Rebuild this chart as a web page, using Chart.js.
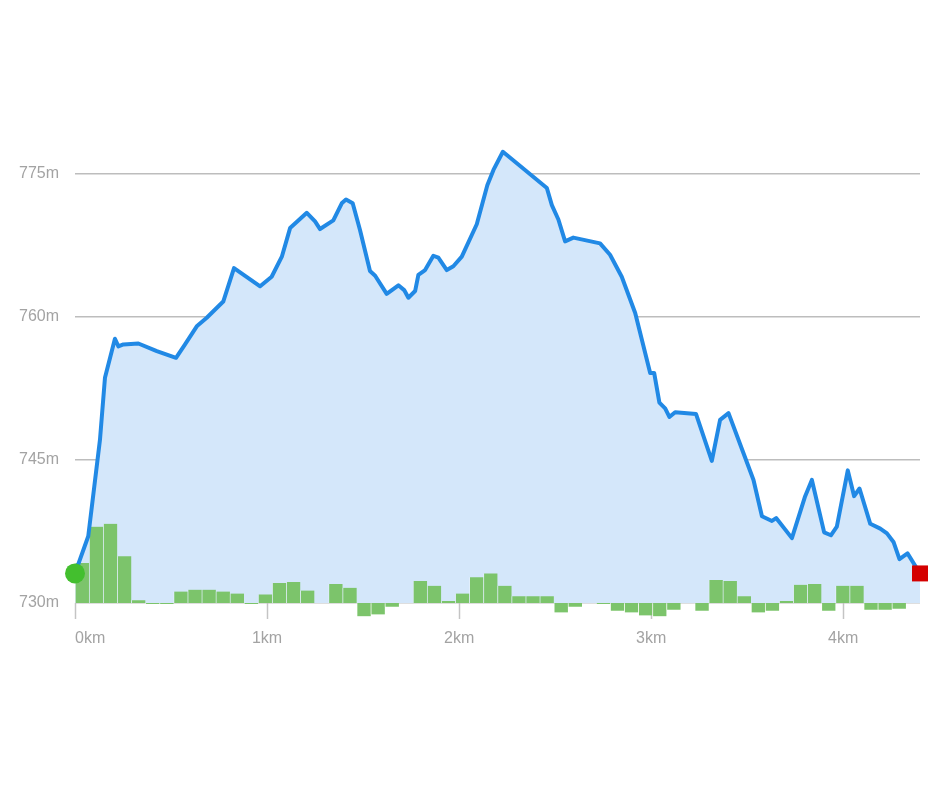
<!DOCTYPE html>
<html>
<head>
<meta charset="utf-8">
<title>Elevation profile</title>
<script src="https://cdn.jsdelivr.net/npm/chart.js@4.4.0/dist/chart.umd.min.js"></script>
<style>
    html, body { margin: 0; padding: 0; background: #ffffff; }
    #wrap { width: 940px; height: 788px; position: relative; }
</style>
</head>
<body>
<div id="wrap"><canvas id="profileChart"></canvas></div>
<script>
// Distance along the route (km) and elevation (m) of the profile line
const distKm = [
    0, 0.069, 0.130, 0.156, 0.208, 0.226, 0.252, 0.330, 0.426, 0.526,
    0.573, 0.634, 0.686, 0.772, 0.828, 0.964, 1.024, 1.077, 1.120, 1.207,
    1.250, 1.276, 1.345, 1.389, 1.411, 1.446, 1.484, 1.536, 1.563, 1.623,
    1.684, 1.714, 1.736, 1.771, 1.788, 1.823, 1.866, 1.892, 1.936, 1.970,
    2.014, 2.092, 2.147, 2.179, 2.228, 2.457, 2.483, 2.517, 2.552, 2.595,
    2.734, 2.786, 2.847, 2.917, 2.995, 3.016, 3.043, 3.073, 3.095, 3.125,
    3.234, 3.316, 3.359, 3.403, 3.481, 3.533, 3.577, 3.629, 3.651, 3.733,
    3.802, 3.837, 3.901, 3.936, 3.967, 4.024, 4.057, 4.085, 4.141, 4.193,
    4.228, 4.262, 4.293, 4.335, 4.400
];
const elevM = [
    733.1, 737.0, 747.1, 753.6, 757.7, 756.9, 757.1, 757.2, 756.4, 755.7,
    757.1, 759.0, 759.9, 761.6, 765.1, 763.2, 764.2, 766.3, 769.3, 770.9,
    770.0, 769.2, 770.1, 771.9, 772.3, 771.9, 769.1, 764.8, 764.3, 762.4,
    763.3, 762.8, 762.0, 762.7, 764.4, 764.9, 766.4, 766.2, 764.9, 765.3,
    766.3, 769.7, 773.8, 775.4, 777.3, 773.5, 771.7, 770.2, 767.9, 768.3,
    767.7, 766.5, 764.2, 760.4, 754.1, 754.1, 751.0, 750.4, 749.5, 750.0,
    749.8, 744.9, 749.2, 749.9, 745.7, 742.9, 739.1, 738.6, 738.9, 736.8,
    741.2, 742.9, 737.4, 737.1, 738.0, 743.9, 741.2, 742.0, 738.3, 737.8,
    737.3, 736.4, 734.6, 735.2, 733.1
];

// Elevation change per segment (green bars, m above/below the 730 m base)
const segmentGain = [
    4.2, 8.0, 8.3, 4.9, 0.3, -0.1, -0.1, 1.2, 1.4, 1.4,
    1.2, 1.0, -0.1, 0.9, 2.1, 2.2, 1.3, 0, 2.0, 1.6,
    -1.4, -1.2, -0.4, 0, 2.3, 1.8, 0.2, 1.0, 2.7, 3.1,
    1.8, 0.7, 0.7, 0.7, -1.0, -0.4, 0, -0.1, -0.8, -1.0,
    -1.3, -1.4, -0.7, 0, -0.8, 2.4, 2.3, 0.7, -1.0, -0.8,
    0.2, 1.9, 2.0, -0.8, 1.8, 1.8, -0.7, -0.7, -0.6, 0
];

const yTicks = [730, 745, 760, 775];
const xTicks = [0, 1, 2, 3, 4];

const BASE_M = 730;
const TOTAL_KM = distKm[distKm.length - 1];
const SEGMENT_KM = TOTAL_KM / segmentGain.length;

const lineData = distKm.map((d, i) => ({ x: d, y: elevM[i] }));
const barData = segmentGain.map((g, i) => ({
    x: (i + 0.5) * SEGMENT_KM,
    y: [BASE_M, BASE_M + g]
}));
const markerData = [
    { x: distKm[0], y: elevM[0] },
    { x: TOTAL_KM, y: elevM[elevM.length - 1] }
];

Chart.defaults.font.family = '"Liberation Sans", Arial, Helvetica, sans-serif';
Chart.defaults.font.size = 16;

const ctx = document.getElementById('profileChart').getContext('2d');

new Chart(ctx, {
    type: 'line',
    data: {
        datasets: [
            {
                type: 'scatter',
                data: markerData,
                pointStyle: ['circle', 'rect'],
                pointRadius: [10, 11.3],
                pointHoverRadius: [10, 11.3],
                pointBackgroundColor: ['#43bf2e', '#d40000'],
                pointBorderWidth: 0,
                showLine: false,
                clip: false,
                order: 0
            },
            {
                type: 'line',
                data: lineData,
                borderColor: '#2189e5',
                borderWidth: 4,
                borderJoinStyle: 'round',
                borderCapStyle: 'round',
                backgroundColor: '#d4e7fa',
                fill: 'start',
                pointRadius: 0,
                tension: 0,
                order: 1
            },
            {
                // segments below 730 m hang under the axis, so no clipping
                type: 'bar',
                data: barData,
                backgroundColor: '#7cc46b',
                borderColor: 'rgba(255, 255, 255, 0.3)',
                borderWidth: { left: 1, right: 0, top: 0, bottom: 0 },
                borderSkipped: false,
                barPercentage: 1,
                categoryPercentage: 1,
                clip: false,
                order: 2
            }
        ]
    },
    options: {
        responsive: true,
        maintainAspectRatio: false,
        animation: false,
        layout: {
            padding: { top: 126, right: 20, bottom: 125, left: 0 }
        },
        plugins: {
            legend: { display: false },
            tooltip: { enabled: false },
            filler: { drawTime: 'beforeDatasetsDraw' }
        },
        scales: {
            x: {
                type: 'linear',
                min: 0,
                max: TOTAL_KM,
                offset: false,
                afterBuildTicks: (scale) => {
                    scale.ticks = xTicks.concat([TOTAL_KM]).map(v => ({ value: v }));
                },
                afterFit: (scale) => {
                    scale.height = 60;
                },
                border: { display: false },
                grid: {
                    offset: false,
                    drawOnChartArea: false,
                    drawTicks: true,
                    tickLength: 16,
                    tickWidth: 1.5,
                    tickColor: (c) => (c.tick && c.tick.value > 4.2) ? 'rgba(0,0,0,0)' : '#c4c4c4'
                },
                ticks: {
                    align: 'inner',
                    padding: 10,
                    autoSkip: false,
                    maxRotation: 0,
                    color: '#a3a3a3',
                    callback: (v) => (v > 4.2 ? '' : v + 'km')
                }
            },
            y: {
                min: BASE_M,
                max: 780,
                afterBuildTicks: (scale) => {
                    scale.ticks = yTicks.map(v => ({ value: v }));
                },
                afterFit: (scale) => {
                    scale.width = 75;
                },
                border: { display: false },
                grid: {
                    color: '#bdbdbd',
                    lineWidth: 1.5,
                    drawTicks: false
                },
                ticks: {
                    padding: 16,
                    color: '#a3a3a3',
                    callback: (v) => v + 'm'
                }
            }
        }
    }
});
</script>
</body>
</html>
